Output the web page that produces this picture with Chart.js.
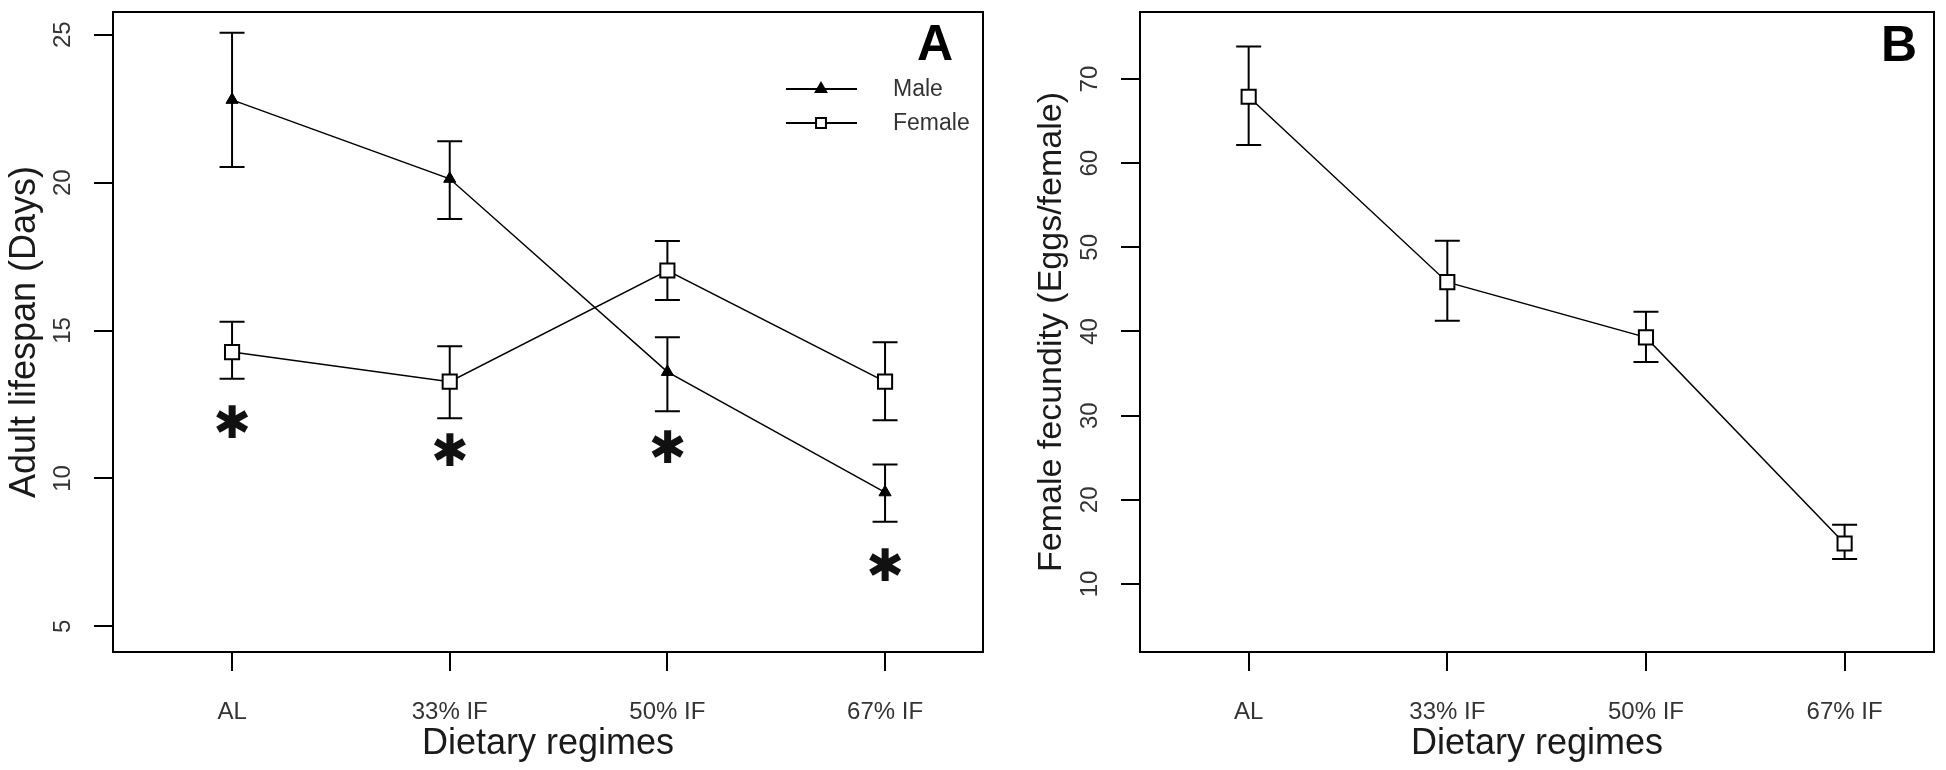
<!DOCTYPE html>
<html>
<head>
<meta charset="utf-8">
<script src="https://cdn.jsdelivr.net/npm/chart.js@4.4.1/dist/chart.umd.min.js"></script>
<style>
  html, body { margin: 0; padding: 0; background: #ffffff; }
  #wrap { position: relative; width: 1946px; height: 770px; overflow: hidden; }
  .panel { position: absolute; top: 0; height: 770px; }
  #pa { left: 0; width: 995px; }
  #pb { left: 995px; width: 951px; }
</style>
</head>
<body>
<div id="wrap">
  <div class="panel" id="pa"><canvas id="cA" width="995" height="770"></canvas></div>
  <div class="panel" id="pb"><canvas id="cB" width="951" height="770"></canvas></div>
</div>
<script>
// ---------------- data ----------------
const categories = ['AL', '33% IF', '50% IF', '67% IF'];

const maleLifespan   = [22.8, 20.13, 13.6, 9.53];
const maleErrLow     = [20.53, 18.77, 12.27, 8.53];
const maleErrHigh    = [25.07, 21.4, 14.77, 10.47];

const femaleLifespan = [14.27, 13.27, 17.03, 13.27];
const femaleErrLow   = [13.37, 12.03, 16.03, 11.97];
const femaleErrHigh  = [15.3, 14.47, 18.03, 14.6];

const sigMarkY       = [11.93, 10.97, 11.07, 7.1];   // asterisk positions (panel A)

const fecundity      = [67.9, 45.86, 39.3, 14.8];
const fecErrLow      = [62.15, 41.29, 36.37, 12.97];
const fecErrHigh     = [73.87, 50.78, 42.35, 17.03];

const yTicksA = [5, 10, 15, 20, 25];
const yTicksB = [10, 20, 30, 40, 50, 60, 70];
const xTicks  = [1, 2, 3, 4];

const TICK_FONT = 'Liberation Sans, Arial, sans-serif';

// ---------------- helpers ----------------
function pts(values) { return values.map((v, i) => ({ x: i + 1, y: v })); }

const errorBarPlugin = {
  id: 'errorBars',
  beforeDatasetsDraw(chart) {
    const ctx = chart.ctx, xs = chart.scales.x, ys = chart.scales.y;
    ctx.save();
    ctx.strokeStyle = '#000';
    ctx.lineWidth = 2;
    chart.data.datasets.forEach(ds => {
      if (!ds.errLow) return;
      ds.data.forEach((p, i) => {
        const x = xs.getPixelForValue(p.x);
        const y1 = ys.getPixelForValue(ds.errLow[i]);
        const y2 = ys.getPixelForValue(ds.errHigh[i]);
        const cap = 12.5;
        ctx.beginPath();
        ctx.moveTo(x, y1); ctx.lineTo(x, y2);
        ctx.moveTo(x - cap, y1); ctx.lineTo(x + cap, y1);
        ctx.moveTo(x - cap, y2); ctx.lineTo(x + cap, y2);
        ctx.stroke();
      });
    });
    ctx.restore();
  }
};

const framePlugin = {
  id: 'frame',
  afterDraw(chart, args, opts) {
    const ctx = chart.ctx, a = chart.chartArea;
    ctx.save();
    // box
    ctx.strokeStyle = '#000';
    ctx.lineWidth = 2;
    ctx.strokeRect(a.left, a.top, a.right - a.left, a.bottom - a.top);
    // rotated y tick labels
    const ys = chart.scales.y;
    ctx.fillStyle = '#333';
    ctx.font = '24px ' + TICK_FONT;
    ctx.textAlign = 'center';
    ctx.textBaseline = 'alphabetic';
    opts.yTicks.forEach(v => {
      const y = ys.getPixelForValue(v);
      ctx.save();
      ctx.translate(opts.yLabelX, y);
      ctx.rotate(-Math.PI / 2);
      ctx.fillText(String(v), 0, 0);
      ctx.restore();
    });
    // panel letter
    ctx.fillStyle = '#000';
    ctx.font = 'bold 50px Liberation Sans, Arial, sans-serif';
    ctx.textAlign = 'right';
    ctx.fillText(opts.letter, opts.letterX, opts.letterY);
    // significance asterisks
    if (opts.sig) {
      const xs = chart.scales.x;
      ctx.font = '45px DejaVu Sans, sans-serif';
      ctx.textAlign = 'left';
      ctx.fillStyle = '#111';
      const glyph = '\u2731';
      opts.sig.forEach((v, i) => {
        const m = ctx.measureText(glyph);
        const cx = xs.getPixelForValue(i + 1);
        const cy = ys.getPixelForValue(v);
        const w = m.actualBoundingBoxRight + m.actualBoundingBoxLeft;
        const x0 = cx - w / 2 + m.actualBoundingBoxLeft;
        const y0 = cy + (m.actualBoundingBoxAscent - m.actualBoundingBoxDescent) / 2;
        ctx.fillText(glyph, x0, y0);
      });
    }
    // legend
    if (opts.legend) {
      const L = opts.legend;
      chart.data.datasets.forEach((ds, i) => {
        const y = L.y0 + i * L.dy;
        ctx.strokeStyle = '#000';
        ctx.lineWidth = 2;
        ctx.beginPath();
        ctx.moveTo(L.x1, y); ctx.lineTo(L.x2, y);
        ctx.stroke();
        ctx.lineWidth = 2;
        ctx.fillStyle = ds.pointBackgroundColor;
        ctx.strokeStyle = '#000';
        Chart.helpers.drawPoint(ctx, { pointStyle: ds.pointStyle, radius: L.r[i], borderWidth: 2, rotation: 0 }, L.xm, y);
        ctx.fillStyle = '#333';
        ctx.font = '23px ' + TICK_FONT;
        ctx.textAlign = 'left';
        ctx.textBaseline = 'middle';
        ctx.fillText(ds.label, L.xt, y + 1);
        ctx.textBaseline = 'alphabetic';
      });
    }
    ctx.restore();
  }
};

function makeChart(id, datasets, o) {
  return new Chart(document.getElementById(id), {
    type: 'line',
    data: { datasets },
    options: {
      responsive: false,
      animation: false,
      events: [],
      layout: { padding: { left: 0, top: 3, right: o.padRight, bottom: 0 } },
      plugins: {
        legend: { display: false },
        tooltip: { enabled: false },
        frame: o.frame
      },
      scales: {
        x: {
          type: 'linear',
          min: 0.453, max: 4.45,
          afterBuildTicks: s => { s.ticks = xTicks.map(v => ({ value: v })); },
          afterFit: s => { s.height = 118; },
          grid: { display: true, drawOnChartArea: false, drawTicks: true, tickLength: 19, color: '#000', lineWidth: 2 },
          border: { display: false },
          ticks: {
            padding: 27,
            color: '#333',
            font: { family: TICK_FONT, size: 24 },
            maxRotation: 0, minRotation: 0,
            callback: v => categories[v - 1]
          },
          title: {
            display: true,
            text: 'Dietary regimes',
            color: '#1a1a1a',
            font: { family: TICK_FONT, size: 36 },
            padding: { top: 0, bottom: 4 }
          }
        },
        y: {
          type: 'linear',
          min: o.yMin, max: o.yMax,
          afterBuildTicks: s => { s.ticks = o.yTicks.map(v => ({ value: v })); },
          afterFit: s => { s.width = o.yWidth; },
          grid: { display: true, drawOnChartArea: false, drawTicks: true, tickLength: 19, color: '#000', lineWidth: 2 },
          border: { display: false },
          ticks: { display: false },
          title: {
            display: true,
            text: o.yTitle,
            color: '#1a1a1a',
            font: { family: TICK_FONT, size: o.yTitleSize },
            padding: { top: o.yTitlePad, bottom: 0 }
          }
        }
      }
    },
    plugins: [errorBarPlugin, framePlugin]
  });
}

// ---------------- panel A ----------------
makeChart('cA', [
  {
    label: 'Male',
    data: pts(maleLifespan),
    errLow: maleErrLow, errHigh: maleErrHigh,
    borderColor: '#000', borderWidth: 1.5,
    pointStyle: 'triangle', pointRadius: 7,
    pointBackgroundColor: '#000', pointBorderColor: '#000', pointBorderWidth: 1
  },
  {
    label: 'Female',
    data: pts(femaleLifespan),
    errLow: femaleErrLow, errHigh: femaleErrHigh,
    borderColor: '#000', borderWidth: 1.5,
    pointStyle: 'rect', pointRadius: 10,
    pointBackgroundColor: '#fff', pointBorderColor: '#000', pointBorderWidth: 2
  }
], {
  padRight: 12, yWidth: 113,
  yMin: 4.13, yMax: 25.77, yTicks: yTicksA,
  yTitle: 'Adult lifespan (Days)', yTitleSize: 36, yTitlePad: 3,
  frame: {
    yTicks: yTicksA, yLabelX: 70,
    letter: 'A', letterX: 953, letterY: 60,
    sig: sigMarkY,
    legend: { x1: 786, x2: 857, xm: 821, xt: 893, y0: 89, dy: 34, r: [6, 7] }
  }
});

// ---------------- panel B ----------------
makeChart('cB', [
  {
    label: 'Female',
    data: pts(fecundity),
    errLow: fecErrLow, errHigh: fecErrHigh,
    borderColor: '#000', borderWidth: 1.5,
    pointStyle: 'rect', pointRadius: 10,
    pointBackgroundColor: '#fff', pointBorderColor: '#000', pointBorderWidth: 2
  }
], {
  padRight: 3, yWidth: 145,
  yMin: 1.91, yMax: 77.97, yTicks: yTicksB,
  yTitle: 'Female fecundity (Eggs/female)', yTitleSize: 34, yTitlePad: 36,
  frame: {
    yTicks: yTicksB, yLabelX: 102,
    letter: 'B', letterX: 922, letterY: 61
  }
});
</script>
</body>
</html>
